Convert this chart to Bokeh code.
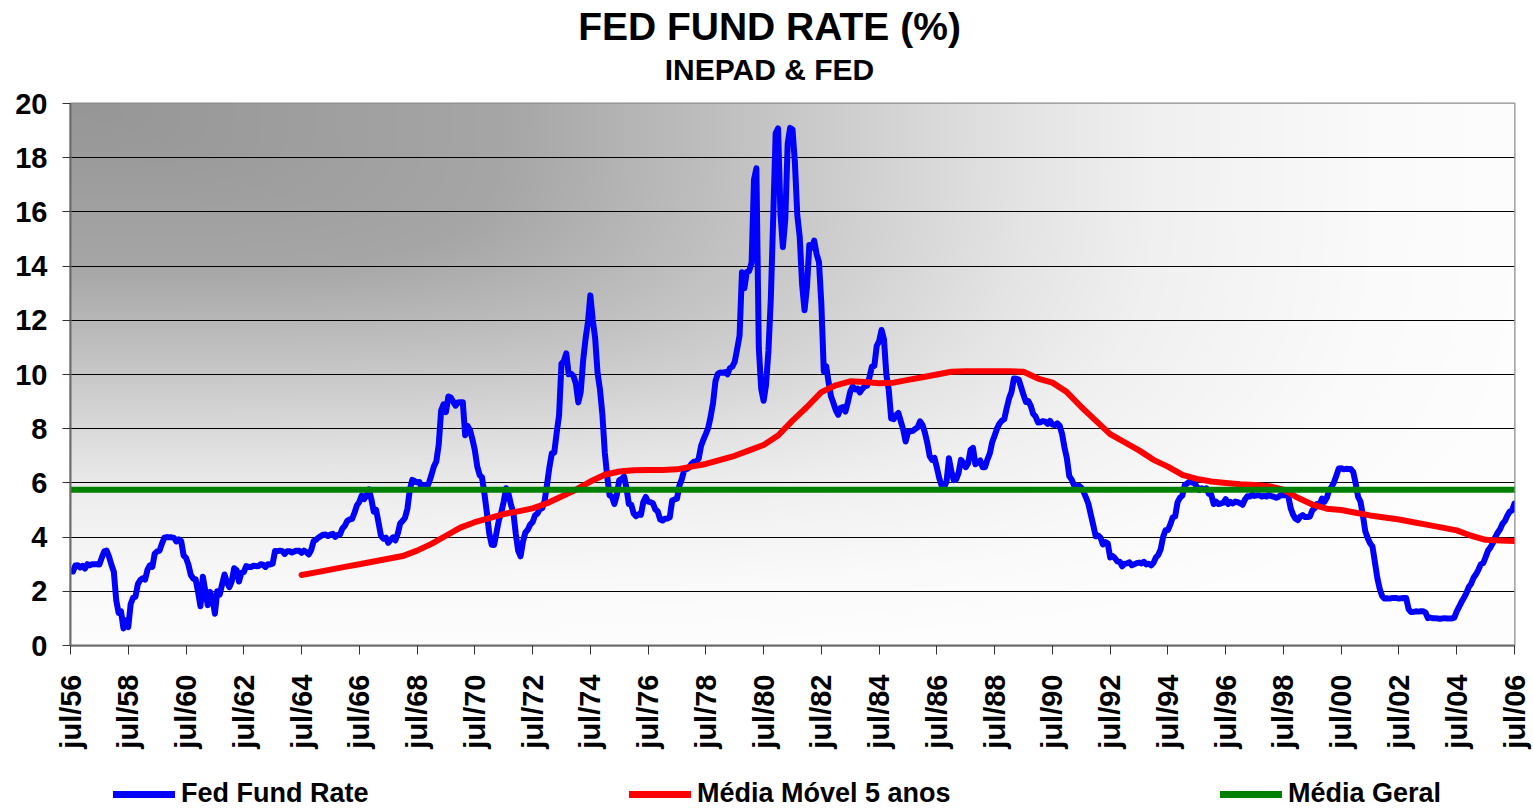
import math
import numpy as np
from bokeh.plotting import figure
from bokeh.layouts import column
from bokeh.models import Range1d, FixedTicker, Label, Legend, LegendItem
from bokeh.embed import file_html
from bokeh.resources import INLINE

# ---------------- data ----------------
x_tick_labels = ["jul/56", "jul/58", "jul/60", "jul/62", "jul/64", "jul/66", "jul/68",
                 "jul/70", "jul/72", "jul/74", "jul/76", "jul/78", "jul/80", "jul/82",
                 "jul/84", "jul/86", "jul/88", "jul/90", "jul/92", "jul/94", "jul/96",
                 "jul/98", "jul/00", "jul/02", "jul/04", "jul/06"]

# Fed Fund Rate, monthly, jul/56 .. jul/06
fed_fund_rate = [
    2.75, 2.73, 2.95, 2.96, 2.88, 2.94,                                   # 1956 (jul-dez)
    2.84, 3.00, 2.96, 3.00, 3.00, 3.00, 2.99, 3.24, 3.47, 3.50, 3.28, 2.98,  # 1957
    2.72, 1.67, 1.20, 1.26, 0.63, 0.93, 0.68, 1.53, 1.76, 1.80, 2.27, 2.42,  # 1958
    2.48, 2.43, 2.80, 2.96, 2.90, 3.39, 3.47, 3.50, 3.76, 3.98, 4.00, 3.99,  # 1959
    3.99, 3.97, 3.84, 3.92, 3.85, 3.32, 3.23, 2.98, 2.60, 2.47, 2.44, 1.98,  # 1960
    1.45, 2.54, 2.02, 1.49, 1.98, 1.73, 1.17, 2.00, 1.88, 2.26, 2.62, 2.33,  # 1961
    2.15, 2.37, 2.85, 2.78, 2.36, 2.68, 2.71, 2.93, 2.90, 2.90, 2.94, 2.93,  # 1962
    2.92, 3.00, 2.98, 2.90, 3.00, 2.99, 3.02, 3.49, 3.48, 3.50, 3.48, 3.38,  # 1963
    3.48, 3.48, 3.43, 3.47, 3.50, 3.50, 3.42, 3.50, 3.45, 3.36, 3.52, 3.85,  # 1964
    3.90, 3.98, 4.04, 4.09, 4.10, 4.04, 4.09, 4.12, 4.01, 4.08, 4.10, 4.32,  # 1965
    4.42, 4.60, 4.65, 4.67, 4.90, 5.17, 5.30, 5.53, 5.40, 5.53, 5.76, 5.40,  # 1966
    4.94, 5.00, 4.53, 4.05, 3.94, 3.98, 3.79, 3.90, 3.99, 3.88, 4.13, 4.51,  # 1967
    4.60, 4.71, 5.05, 5.76, 6.11, 6.07, 6.02, 6.03, 5.78, 5.91, 5.82, 6.02,  # 1968
    6.30, 6.61, 6.79, 7.41, 8.67, 8.90, 8.61, 9.19, 9.15, 9.00, 8.85, 8.97,  # 1969
    8.98, 8.98, 7.76, 8.10, 7.95, 7.61, 7.21, 6.61, 6.29, 6.20, 5.60, 4.90,  # 1970
    4.14, 3.72, 3.71, 4.16, 4.63, 4.91, 5.31, 5.80, 5.60, 5.20, 4.91, 4.14,  # 1971
    3.50, 3.29, 3.83, 4.17, 4.27, 4.46, 4.55, 4.80, 4.87, 5.04, 5.06, 5.33,  # 1972
    5.94, 6.58, 7.09, 7.12, 7.84, 8.49, 10.40, 10.50, 10.78, 10.01, 10.03, 9.95,  # 1973
    9.65, 8.97, 9.35, 10.51, 11.31, 11.93, 12.92, 12.01, 11.34, 10.06, 9.45, 8.53,  # 1974
    7.13, 6.24, 5.54, 5.49, 5.22, 5.55, 6.10, 6.14, 6.24, 5.82, 5.22, 5.20,  # 1975
    4.87, 4.77, 4.84, 4.82, 5.29, 5.48, 5.31, 5.29, 5.25, 5.02, 4.95, 4.65,  # 1976
    4.61, 4.68, 4.69, 4.73, 5.35, 5.39, 5.42, 5.90, 6.14, 6.47, 6.51, 6.56,  # 1977
    6.70, 6.78, 6.79, 6.89, 7.36, 7.60, 7.81, 8.04, 8.45, 8.96, 9.76, 10.03,  # 1978
    10.07, 10.06, 10.09, 10.01, 10.24, 10.29, 10.47, 10.94, 11.43, 13.77, 13.18, 13.78,  # 1979
    13.82, 14.13, 17.19, 17.61, 10.98, 9.47, 9.03, 9.61, 10.87, 12.81, 15.85, 18.90,  # 1980
    19.08, 15.93, 14.70, 15.72, 18.52, 19.10, 19.04, 17.82, 15.87, 15.08, 13.31, 12.37,  # 1981
    13.22, 14.78, 14.68, 14.94, 14.45, 14.15, 12.59, 10.12, 10.31, 9.71, 9.20, 8.95,  # 1982
    8.68, 8.51, 8.77, 8.80, 8.63, 8.98, 9.37, 9.56, 9.45, 9.48, 9.34, 9.47,  # 1983
    9.56, 9.59, 9.91, 10.29, 10.32, 11.06, 11.23, 11.64, 11.30, 9.99, 9.43, 8.38,  # 1984
    8.35, 8.50, 8.58, 8.27, 7.97, 7.53, 7.88, 7.90, 7.92, 7.99, 8.05, 8.27,  # 1985
    8.14, 7.86, 7.48, 6.99, 6.85, 6.92, 6.56, 6.17, 5.89, 5.85, 6.04, 6.91,  # 1986
    6.43, 6.10, 6.13, 6.37, 6.85, 6.73, 6.58, 6.73, 7.22, 7.29, 6.69, 6.77,  # 1987
    6.83, 6.58, 6.58, 6.87, 7.09, 7.51, 7.75, 8.01, 8.19, 8.30, 8.35, 8.76,  # 1988
    9.12, 9.36, 9.85, 9.84, 9.81, 9.53, 9.24, 8.99, 9.02, 8.84, 8.55, 8.45,  # 1989
    8.23, 8.24, 8.28, 8.26, 8.18, 8.29, 8.15, 8.13, 8.20, 8.11, 7.81, 7.31,  # 1990
    6.91, 6.25, 6.12, 5.91, 5.78, 5.90, 5.82, 5.66, 5.45, 5.21, 4.81, 4.43,  # 1991
    4.03, 4.06, 3.98, 3.73, 3.82, 3.76, 3.25, 3.30, 3.22, 3.10, 3.09, 2.92,  # 1992
    3.02, 3.03, 3.07, 2.96, 3.00, 3.04, 3.06, 3.03, 3.09, 2.99, 3.02, 2.96,  # 1993
    3.05, 3.25, 3.34, 3.56, 4.01, 4.25, 4.26, 4.47, 4.73, 4.76, 5.29, 5.45,  # 1994
    5.53, 5.92, 5.98, 6.05, 6.01, 6.00, 5.85, 5.74, 5.80, 5.76, 5.80, 5.60,  # 1995
    5.56, 5.22, 5.31, 5.22, 5.24, 5.27, 5.40, 5.22, 5.30, 5.24, 5.31, 5.29,  # 1996
    5.25, 5.19, 5.39, 5.51, 5.50, 5.56, 5.52, 5.54, 5.54, 5.50, 5.52, 5.50,  # 1997
    5.56, 5.51, 5.49, 5.45, 5.49, 5.56, 5.54, 5.55, 5.51, 5.07, 4.83, 4.68,  # 1998
    4.63, 4.76, 4.81, 4.74, 4.74, 4.76, 4.99, 5.07, 5.22, 5.20, 5.42, 5.30,  # 1999
    5.45, 5.73, 5.85, 6.02, 6.27, 6.53, 6.54, 6.50, 6.52, 6.51, 6.51, 6.40,  # 2000
    5.98, 5.49, 5.31, 4.80, 4.21, 3.97, 3.77, 3.65, 3.07, 2.49, 2.09, 1.82,  # 2001
    1.73, 1.74, 1.73, 1.75, 1.75, 1.75, 1.73, 1.74, 1.75, 1.75, 1.34, 1.24,  # 2002
    1.24, 1.26, 1.25, 1.26, 1.26, 1.22, 1.01, 1.03, 1.01, 1.01, 1.00, 0.98,  # 2003
    1.00, 1.01, 1.00, 1.00, 1.00, 1.03, 1.26, 1.43, 1.61, 1.76, 1.93, 2.16,  # 2004
    2.28, 2.50, 2.63, 2.79, 3.00, 3.04, 3.26, 3.50, 3.62, 3.78, 4.00, 4.16,  # 2005
    4.29, 4.49, 4.59, 4.79, 4.94, 4.99, 5.24,                                # 2006 (jan-jul)
]

# Média Móvel 5 anos, read every 6 months from jul/64 to jul/06
media_movel_start_month = 96    # jul/64, months after jul/56
media_movel_step_months = 6
media_movel_5_anos = [
    2.6,                                   # jul/64
    2.7, 2.8, 2.9, 3.0, 3.1, 3.2, 3.3, 3.5,          # jan/65 .. jul/68
    3.75, 4.05, 4.35, 4.55, 4.7, 4.85, 4.95, 5.06,   # jan/69 .. jul/72
    5.25, 5.5, 5.75, 6.05, 6.3, 6.42, 6.47, 6.48,    # jan/73 .. jul/76
    6.48, 6.5, 6.6, 6.7, 6.85, 7.0, 7.2, 7.4,        # jan/77 .. jul/80
    7.75, 8.3, 8.8, 9.35, 9.6, 9.75, 9.72, 9.68,     # jan/81 .. jul/84
    9.7, 9.8, 9.9, 10.0, 10.1, 10.12, 10.12, 10.12,  # jan/85 .. jul/88
    10.12, 10.1, 9.85, 9.7, 9.35, 8.8, 8.3, 7.8,     # jan/89 .. jul/92
    7.5, 7.2, 6.85, 6.6, 6.3, 6.15, 6.05, 6.0,       # jan/93 .. jul/96
    5.95, 5.92, 5.88, 5.75, 5.45, 5.2, 5.05, 5.0,    # jan/97 .. jul/00
    4.9, 4.8, 4.72, 4.65, 4.55, 4.45, 4.35, 4.25,    # jan/01 .. jul/04
    4.05, 3.9, 3.87, 3.86,                           # jan/05 .. jul/06
]

media_geral = 5.75

series_names = ["Fed Fund Rate", "Média Móvel 5 anos", "Média Geral"]
series_colors = ["#0000ff", "#ff0000", "#008000"]
title_text = "FED FUND RATE (%)"
subtitle_text = "INEPAD & FED"

months = np.arange(len(fed_fund_rate))
mm_x = media_movel_start_month + media_movel_step_months * np.arange(len(media_movel_5_anos))
tick_step = 24
tick_positions = [i * tick_step for i in range(len(x_tick_labels))]

FONT = "Liberation Sans"
W_TOTAL = 1533
H_TITLE, H_MAIN, H_LEG = 88, 689, 32
FRAME_LEFT = 70


def blank_fig(height):
    f = figure(width=W_TOTAL, height=height, output_backend="svg", toolbar_location=None,
               x_axis_location=None, y_axis_location=None,
               x_range=Range1d(0, 1), y_range=Range1d(0, 1),
               min_border=0, min_border_left=0, min_border_right=0,
               min_border_top=0, min_border_bottom=0,
               background_fill_color="white", border_fill_color="white")
    f.outline_line_color = None
    f.grid.visible = False
    return f


# ---------------- title figure ----------------
pt = blank_fig(H_TITLE)
pt.add_layout(Label(x=769 - FRAME_LEFT, y=62, x_units="screen", y_units="screen",
                    text=title_text, text_align="center", text_baseline="alphabetic",
                    text_font=FONT, text_font_style="bold", text_font_size="39px",
                    text_color="black"))
pt.add_layout(Label(x=769 - FRAME_LEFT, y=19, x_units="screen", y_units="screen",
                    text=subtitle_text, text_align="center", text_baseline="alphabetic",
                    text_font=FONT, text_font_style="bold", text_font_size="30px",
                    text_color="black"))

# ---------------- main figure ----------------
p = figure(width=W_TOTAL, height=H_MAIN, output_backend="svg", toolbar_location=None,
           x_range=Range1d(0, months[-1]), y_range=Range1d(0, 20),
           min_border_left=FRAME_LEFT, min_border_right=19, min_border_top=15,
           min_border_bottom=132,
           background_fill_color="white", border_fill_color="white")
p.outline_line_color = "#8c8c8c"
p.outline_line_width = 2

# gradient background (dark at top-left corner, light toward bottom/right)
H, W = 271, 722
U, V = np.meshgrid(np.linspace(0, 1, W), np.linspace(0, 1, H))
t = (U ** 4 + V ** 4) ** 0.25
B = np.interp(t, [0.0, 0.3, 0.5, 0.66, 0.75, 0.9, 1.0, 1.5],
              [150, 166, 200, 228, 240, 250, 253, 254]).astype(np.uint8)
img = np.empty((H, W), dtype=np.uint32)
view = img.view(dtype=np.uint8).reshape((H, W, 4))
view[..., 0] = B
view[..., 1] = B
view[..., 2] = B
view[..., 3] = 255
bg = p.image_rgba(image=[img[::-1]], x=0, y=0, dw=months[-1], dh=20)
bg.level = "image"

# grid
p.xgrid.grid_line_color = None
p.ygrid.grid_line_color = "black"
p.ygrid.grid_line_width = 1
p.ygrid.ticker = FixedTicker(ticks=list(range(0, 21, 2)))

# series
p.line(months, fed_fund_rate, line_color=series_colors[0], line_width=6,
       line_join="round", line_cap="round")
p.line(mm_x, media_movel_5_anos, line_color=series_colors[1], line_width=6,
       line_join="round", line_cap="round")
p.line([months[0], months[-1]], [media_geral, media_geral], line_color=series_colors[2],
       line_width=6, line_cap="round")

# axes
p.xaxis.ticker = FixedTicker(ticks=tick_positions)
p.xaxis.major_label_overrides = {pos: lab for pos, lab in zip(tick_positions, x_tick_labels)}
p.xaxis.major_label_orientation = math.pi / 2
p.xaxis.major_label_standoff = 20
p.xaxis.major_tick_out = 9
p.xaxis.major_tick_in = 0

p.yaxis.ticker = FixedTicker(ticks=list(range(0, 21, 2)))
p.yaxis.major_label_standoff = 15
p.yaxis.major_tick_out = 8
p.yaxis.major_tick_in = 0

for ax in (p.xaxis[0], p.yaxis[0]):
    ax.axis_line_color = "#6b6b6b"
    ax.axis_line_width = 2
    ax.major_tick_line_color = "#333333"
    ax.major_tick_line_width = 1
    ax.minor_tick_line_color = None
    ax.major_label_text_font = FONT
    ax.major_label_text_font_style = "bold"
    ax.major_label_text_color = "black"
p.xaxis.major_label_text_font_size = "29px"
p.yaxis.major_label_text_font_size = "29px"

# ---------------- legend figure ----------------
pl = blank_fig(H_LEG)
legend_x = [113, 629, 1220]
nan = float("nan")
for name, color, lx in zip(series_names, series_colors, legend_x):
    proxy = pl.line(x=[nan, nan], y=[nan, nan], line_color=color, line_width=7,
                    line_cap="round")
    leg = Legend(items=[LegendItem(label=name, renderers=[proxy])],
                 location=(lx - FRAME_LEFT, 0), orientation="horizontal")
    leg.background_fill_alpha = 0
    leg.border_line_color = None
    leg.padding = 0
    leg.margin = 0
    leg.spacing = 0
    leg.glyph_width = 62
    leg.glyph_height = 20
    leg.label_standoff = 6
    leg.label_text_font = FONT
    leg.label_text_font_style = "bold"
    leg.label_text_font_size = "27px"
    leg.label_text_color = "black"
    pl.add_layout(leg, "center")

layout = column(pt, p, pl, spacing=0)
open("out.html", "w").write(file_html(layout, INLINE))
